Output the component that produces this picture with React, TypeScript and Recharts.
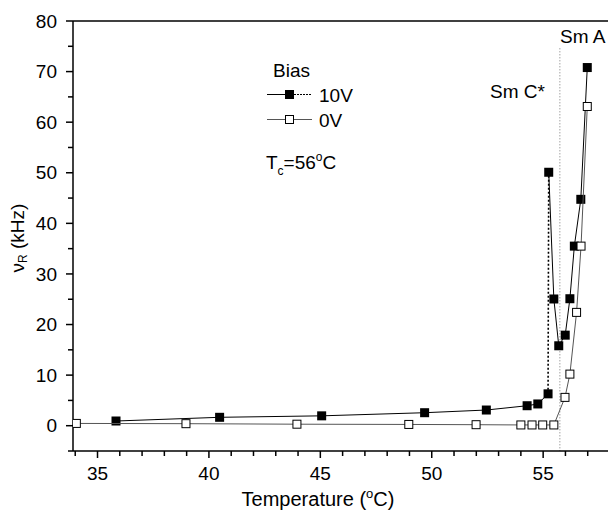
import React from "react";
import { ScatterChart, Scatter, XAxis, YAxis, ReferenceLine } from "recharts";

// 10V bias run (temperature in °C, resonance frequency in kHz)
const temps10V = [35.83, 40.48, 45.06, 49.68, 52.45, 54.28, 54.76, 55.22, 55.25, 55.48, 55.7, 55.99, 56.2, 56.4, 56.69, 56.98];
const freq10V = [0.93, 1.66, 1.95, 2.57, 3.1, 3.95, 4.3, 6.3, 50.1, 25.05, 15.8, 17.9, 25.1, 35.5, 44.75, 70.8];
// index of the last point before the dotted jump
const jumpIndex = 7;

// 0V bias run
const temps0V = [34.05, 38.97, 43.95, 48.97, 51.99, 54.0, 54.5, 54.98, 55.48, 55.98, 56.2, 56.5, 56.7, 56.98];
const freq0V = [0.45, 0.4, 0.3, 0.25, 0.2, 0.15, 0.15, 0.15, 0.15, 5.6, 10.2, 22.4, 35.5, 63.1];

const xTicks = [34, 35, 36, 37, 38, 39, 40, 41, 42, 43, 44, 45, 46, 47, 48, 49, 50, 51, 52, 53, 54, 55, 56, 57, 58];
const yTicks = [-5, 0, 5, 10, 15, 20, 25, 30, 35, 40, 45, 50, 55, 60, 65, 70, 75, 80];

// Sm C* / Sm A boundary
const transitionTemp = 55.75;
const transitionTop = 74.6;

const FONT = "'Liberation Sans', Arial, Helvetica, sans-serif";

const pts10V = temps10V.map((x, i) => ({ x, y: freq10V[i] }));
const pts0V = temps0V.map((x, i) => ({ x, y: freq0V[i] }));

const FilledSquare = (p: any) => (
    <rect x={p.cx - 4.5} y={p.cy - 4.5} width={9} height={9} fill="#000" />
);
const OpenSquare = (p: any) => (
    <rect x={p.cx - 4} y={p.cy - 4} width={8} height={8} fill="#fff" stroke="#000" strokeWidth={1} />
);
const NoMarker = () => <g />;

const XTick = (props: any) => {
    const { x, y, payload } = props;
    const axisY = y - 9;
    const v = payload.value;
    const major = v % 5 === 0;
    return (
        <g>
            <line x1={x} x2={x} y1={axisY} y2={axisY + (major ? 7 : 5)} stroke="#000" strokeWidth={1.5} />
            {major && (
                <text x={x} y={axisY + 16} dy="0.71em" textAnchor="middle" fontSize={19} fontFamily={FONT} fill="#000">
                    {v}
                </text>
            )}
        </g>
    );
};

const YTick = (props: any) => {
    const { x, y, payload } = props;
    const axisX = x + 9;
    const v = payload.value;
    const major = v % 10 === 0;
    return (
        <g>
            <line x1={axisX - (major ? 7 : 5)} x2={axisX} y1={y} y2={y} stroke="#000" strokeWidth={1.5} />
            {major && (
                <text x={axisX - 16} y={y} dy="0.35em" textAnchor="end" fontSize={19} fontFamily={FONT} fill="#000">
                    {v}
                </text>
            )}
        </g>
    );
};

function Annotations() {
    return (
        <svg width={608} height={513} style={{ position: "absolute", left: 0, top: 0, pointerEvents: "none" }}>
            <g fontFamily={FONT} fontSize={19} fill="#000">
                {/* y axis title */}
                <text x={17} y={238} textAnchor="middle" dominantBaseline="central" transform="rotate(-90, 17, 238)">
                    ν<tspan fontSize={12} dy={6}>R</tspan>
                    <tspan dy={-6}> (kHz)</tspan>
                </text>
                {/* x axis title */}
                <text x={318} y={506} textAnchor="middle" fontSize={20}>
                    Temperature (<tspan fontSize={13} dy={-8}>o</tspan>
                    <tspan dy={8}>C)</tspan>
                </text>

                <text x={560} y={43}>Sm A</text>
                <text x={490} y={98}>Sm C*</text>

                {/* legend */}
                <text x={273} y={77}>Bias</text>
                <line x1={267} x2={285} y1={94.5} y2={94.5} stroke="#000" strokeWidth={1} />
                <line x1={294} x2={312} y1={94.5} y2={94.5} stroke="#000" strokeWidth={1} strokeDasharray="2 1" />
                <rect x={285} y={90} width={9} height={9} fill="#000" />
                <text x={319} y={101.5}>10V</text>
                <line x1={267} x2={312} y1={119.5} y2={119.5} stroke="#555" strokeWidth={1} />
                <rect x={285.5} y={115.5} width={8} height={8} fill="#fff" stroke="#000" strokeWidth={1} />
                <text x={319} y={126.5}>0V</text>

                <text x={266} y={169}>
                    T<tspan fontSize={12} dy={6}>c</tspan>
                    <tspan dy={-6}>=56</tspan>
                    <tspan fontSize={12} dy={-8}>o</tspan>
                    <tspan dy={8}>C</tspan>
                </text>
            </g>
        </svg>
    );
}

export default function App() {
    return (
        <div style={{ position: "absolute", left: 0, top: 0, width: 608, height: 513, overflow: "hidden", background: "#fff" }}>
            <ScatterChart width={610} height={513} margin={{ top: 21, right: 0, bottom: 0, left: 0 }}>
                <XAxis
                    type="number"
                    dataKey="x"
                    domain={[33.9, 58]}
                    ticks={xTicks}
                    allowDataOverflow
                    height={62}
                    tickSize={7}
                    tickMargin={2}
                    tickLine={false}
                    tick={<XTick />}
                    axisLine={{ stroke: "#000", strokeWidth: 1.5 }}
                    interval={0}
                />
                <YAxis
                    type="number"
                    dataKey="y"
                    domain={[-5, 80]}
                    ticks={yTicks}
                    allowDataOverflow
                    width={73}
                    tickSize={7}
                    tickMargin={2}
                    tickLine={false}
                    tick={<YTick />}
                    axisLine={{ stroke: "#000", strokeWidth: 1.5 }}
                    interval={0}
                />
                <ReferenceLine y={80} stroke="#000" strokeWidth={1.5} />
                <ReferenceLine
                    segment={[{ x: transitionTemp, y: transitionTop }, { x: transitionTemp, y: -5 }]}
                    stroke="#777"
                    strokeWidth={1}
                    strokeDasharray="1 2"
                />
                <Scatter
                    data={pts10V.slice(jumpIndex, jumpIndex + 2)}
                    line={{ stroke: "#000", strokeWidth: 1.6, strokeDasharray: "2 2" }}
                    shape={<NoMarker />}
                    isAnimationActive={false}
                />
                <Scatter
                    data={pts10V.slice(0, jumpIndex + 1)}
                    line={{ stroke: "#000", strokeWidth: 1 }}
                    shape={<FilledSquare />}
                    isAnimationActive={false}
                />
                <Scatter
                    data={pts10V.slice(jumpIndex + 1)}
                    line={{ stroke: "#000", strokeWidth: 1 }}
                    shape={<FilledSquare />}
                    isAnimationActive={false}
                />
                <Scatter
                    data={pts0V}
                    line={{ stroke: "#555", strokeWidth: 1 }}
                    shape={<OpenSquare />}
                    isAnimationActive={false}
                />
            </ScatterChart>
            <Annotations />
        </div>
    );
}
